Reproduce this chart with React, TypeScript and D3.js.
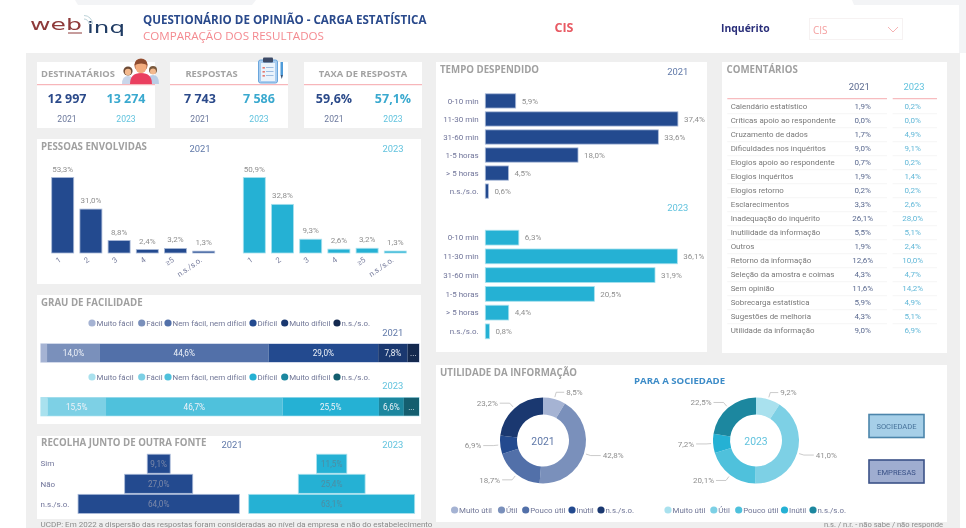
import React from 'react';
import * as d3 from 'd3';

const FONT = '"Open Sans", "Noto Sans", sans-serif';
const LABEL = 'Roboto, "Open Sans", sans-serif';
const NAVY = '#234a8f';
const TEAL = '#25b1d4';
const GREY = '#8f8f8f';
const YEAR_21 = '#5f78a8';
const YEAR_23 = '#62c3de';

// kpis
const kpiTitles = ['DESTINATÁRIOS', 'RESPOSTAS', 'TAXA DE RESPOSTA'];
const kpi2021 = ['12 997', '7 743', '59,6%'];
const kpi2023 = ['13 274', '7 586', '57,1%'];

// pessoas envolvidas
const pessoasCats = ['1', '2', '3', '4', '≥5', 'n.s./s.o.'];
const pessoas2021 = [53.3, 31.0, 8.8, 2.4, 3.2, 1.3];
const pessoas2023 = [50.9, 32.8, 9.3, 2.6, 3.2, 1.3];

// grau de facilidade
const grauCats = ['Muito fácil', 'Fácil', 'Nem fácil, nem difícil', 'Difícil', 'Muito difícil', 'n.s./s.o.'];
const grau2021 = [1.6, 14.0, 44.6, 29.0, 7.8, 3.0];
const grau2023 = [1.7, 15.5, 46.7, 25.5, 6.6, 4.0];
const grauLabels2021 = ['', '14,0%', '44,6%', '29,0%', '7,8%', '...'];
const grauLabels2023 = ['', '15,5%', '46,7%', '25,5%', '6,6%', '...'];
const blues = ['#a5b3d3', '#7a90bb', '#5270a9', '#234a8f', '#1a3870', '#14294f'];
const teals = ['#a9e1ee', '#7dd0e5', '#4fc1dc', '#25b1d4', '#1c879f', '#145e6f'];

// recolha
const recolhaCats = ['Sim', 'Não', 'n.s./s.o.'];
const recolha2021 = [9.1, 27.0, 64.0];
const recolha2023 = [11.5, 25.4, 63.1];

// tempo despendido
const tempoCats = ['0-10 min', '11-30 min', '31-60 min', '1-5 horas', '> 5 horas', 'n.s./s.o.'];
const tempo2021 = [5.9, 37.4, 33.6, 18.0, 4.5, 0.6];
const tempo2023 = [6.3, 36.1, 31.9, 20.5, 4.4, 0.8];

// comentarios
const comentCats = [
  'Calendário estatístico', 'Críticas apoio ao respondente', 'Cruzamento de dados',
  'Dificuldades nos inquéritos', 'Elogios apoio ao respondente', 'Elogios inquéritos',
  'Elogios retorno', 'Esclarecimentos', 'Inadequação do inquérito',
  'Inutilidade da informação', 'Outros', 'Retorno da informação',
  'Seleção da amostra e coimas', 'Sem opinião', 'Sobrecarga estatística',
  'Sugestões de melhoria', 'Utilidade da informação',
];
const coment2021 = [1.9, 0.0, 1.7, 9.0, 0.7, 1.9, 0.2, 3.3, 26.1, 5.5, 1.9, 12.6, 4.3, 11.6, 5.9, 4.3, 9.0];
const coment2023 = [0.2, 0.0, 4.9, 9.1, 0.2, 1.4, 0.2, 2.6, 28.0, 5.1, 2.4, 10.0, 4.7, 14.2, 4.9, 5.1, 6.9];

// utilidade
const utilCats = ['Muito útil', 'Útil', 'Pouco útil', 'Inútil', 'n.s./s.o.'];
const util2021 = [8.5, 42.8, 18.7, 6.9, 23.2];
const util2023 = [9.2, 41.0, 20.1, 7.2, 22.5];
const utilBlues = ['#a5b3d3', '#7a90bb', '#5270a9', '#234a8f', '#1a3870'];
const utilTeals = ['#a9e1ee', '#7dd0e5', '#4fc1dc', '#25b1d4', '#1c879f'];

const pct = (v: number) => v.toFixed(1).replace('.', ',') + '%';

const Panel = ({ x, y, w, h }: any) => <rect x={x} y={y} width={w} height={h} fill='#fff' />;

const Title = ({ x, y, children }: any) => (
  <text x={x} y={y} fontSize={9.7} fontWeight={700} fill='#a0a0a0'>{children}</text>
);

const Year = ({ x, y, c, children, size = 9.4 }: any) => (
  <text x={x} y={y} fontSize={size} fill={c} fontFamily={LABEL} textAnchor='middle'>{children}</text>
);

const Legend = ({ cats, colors, xs, y }: any) => (
  <g fontFamily={LABEL}>
    {cats.map((d: string, i: number) => (
      <g key={d}>
        <circle cx={xs[i]} cy={y} r={3.6} fill={colors[i]} />
        <text x={xs[i] + 4.5} y={y + 3} fontSize={7.9} fill='#6f7596'>{d}</text>
      </g>
    ))}
  </g>
);

const Kpi = ({ x, i, icon }: any) => (
  <g>
    <Panel x={x} y={62} w={118} h={66} />
    <line x1={x} x2={x + 118} y1={84.7} y2={84.7} stroke='#f5a5ab' strokeWidth={1} />
    <text x={x + (i === 0 ? 41 : i === 1 ? 41.5 : 59)} y={76.7} fontSize={9.4} fontWeight={700} fill='#a3a3a3' textAnchor='middle'>{kpiTitles[i]}</text>
    <text x={x + 30} y={102.5} fontSize={12.5} fontWeight={700} fill='#2b4a8a' textAnchor='middle'>{kpi2021[i]}</text>
    <text x={x + 89} y={102.5} fontSize={12.5} fontWeight={700} fill='#3aa9cf' textAnchor='middle'>{kpi2023[i]}</text>
    <Year x={x + 30} y={122} c='#6b789c' size={8.6}>2021</Year>
    <Year x={x + 89} y={122} c={YEAR_23} size={8.6}>2023</Year>
    {icon}
  </g>
);

const PeopleIcon = () => (
  <g>
    <circle cx={128} cy={71} r={4.6} fill='#6d4a35' />
    <path d='M122 84 q0 -8 6 -8 q6 0 6 8 z' fill='#c9d6ea' />
    <circle cx={128} cy={72} r={3.2} fill='#f3b98e' />
    <circle cx={153} cy={70} r={4} fill='#7a5a3e' />
    <path d='M147 84 q0 -9 6 -9 q6 0 6 9 z' fill='#b9cde6' />
    <circle cx={153} cy={71.5} r={3} fill='#f3b98e' />
    <path d='M130 84 q0 -11 11 -11 q11 0 11 11 z' fill='#ea3f5f' />
    <circle cx={141} cy={65} r={6.6} fill='#a3593a' />
    <ellipse cx={141} cy={67} rx={5.6} ry={6.2} fill='#f3ac7e' />
    <path d='M134.6 65 q1 -6 6.4 -6 q5.4 0 6.4 6 q-6 -3 -12.8 0 z' fill='#8d4b2f' />
  </g>
);

const ClipIcon = () => (
  <g>
    <rect x={258.5} y={60} width={19} height={23} rx={2} fill='#a9cdf0' stroke='#6aa6dd' strokeWidth={1} />
    <rect x={261} y={63} width={14} height={18} fill='#eaf3fc' />
    <rect x={263} y={57.5} width={10} height={5} rx={1} fill='#3d4a66' />
    {[67, 71, 75].map((y) => (
      <g key={y}>
        <rect x={262.5} y={y} width={2.4} height={1.6} fill='#e2786f' />
        <rect x={266} y={y} width={7.5} height={1} fill='#9cbce0' />
      </g>
    ))}
    <rect x={280.5} y={62} width={2.5} height={13} fill='#4f9bd9' />
    <path d='M280.5 75 l1.25 4 l1.25 -4 z' fill='#35577e' />
  </g>
);

const PessoasBars = ({ values, color, x0 }: any) => {
  const x = d3.scaleBand().domain(pessoasCats).range([x0, x0 + 169.2]).paddingInner(0.22).paddingOuter(0.11);
  const y = d3.scaleLinear().domain([0, d3.max(values) as number]).range([253, 177.5]);
  return (
    <g fontFamily={LABEL}>
      {pessoasCats.map((c, i) => (
        <g key={c}>
          <rect x={x(c)} y={y(values[i])} width={x.bandwidth()} height={253 - y(values[i])}
            fill={color} stroke={color === NAVY ? '#a9b9d8' : '#a9e1ee'} strokeWidth={0.8} />
          <text x={x(c)! + x.bandwidth() / 2} y={y(values[i]) - 6} fontSize={8} fill={GREY} textAnchor='middle'>{pct(values[i])}</text>
          <text transform={`translate(${x(c)! + x.bandwidth() / 2 - 1},261) rotate(-35)`} fontSize={7.8} fill='#7b80a0' textAnchor='end'>{c}</text>
        </g>
      ))}
    </g>
  );
};

const Stacked = ({ values, labels, colors, y, border }: any) => {
  const x = d3.scaleLinear().domain([0, d3.sum(values)]).range([41, 419]);
  const starts = d3.cumsum([0, ...values]);
  return (
    <g fontFamily={LABEL}>
      <rect x={41} y={y} width={378} height={18} fill='none' stroke={border} strokeWidth={1.2} />
      {values.map((v: number, i: number) => (
        <g key={i}>
          <rect x={x(starts[i])} y={y} width={x(v) - x(0)} height={18} fill={colors[i]} />
          <text x={x(starts[i]) + (x(v) - x(0)) / 2} y={y + 12} fontSize={8.2} fill='#eef2f8' textAnchor='middle'>{labels[i]}</text>
        </g>
      ))}
    </g>
  );
};

const Pyramid = ({ values, color, cx, k, labelColor, border }: any) => {
  const y = d3.scaleBand().domain(recolhaCats).range([453.2, 514.4]).padding(0.05);
  const w = d3.scaleLinear().domain([0, 100]).range([0, k]);
  return (
    <g fontFamily={LABEL}>
      {recolhaCats.map((c, i) => (
        <g key={c}>
          <rect x={cx - w(values[i]) / 2} y={y(c)} width={w(values[i])} height={y.bandwidth()} fill={color} stroke={border} strokeWidth={0.8} />
          <text x={cx} y={y(c)! + y.bandwidth() / 2 + 3} fontSize={8.2} fill={labelColor} textAnchor='middle'>{pct(values[i])}</text>
        </g>
      ))}
    </g>
  );
};

const TempoBars = ({ values, color, border, top, step, k }: any) => {
  const y = d3.scaleBand().domain(tempoCats).range([top, top + step * 6]).padding(0.21);
  const x = d3.scaleLinear().domain([0, 100]).range([485.3, 485.3 + k]);
  return (
    <g fontFamily={LABEL}>
      {tempoCats.map((c, i) => (
        <g key={c}>
          <rect x={x(0)} y={y(c)} width={x(values[i]) - x(0)} height={y.bandwidth()} fill={color} stroke={border} strokeWidth={0.8} />
          <text x={478.7} y={y(c)! + y.bandwidth() / 2 + 2.8} fontSize={8} fill='#71759a' textAnchor='end'>{c}</text>
          <text x={x(values[i]) + 6} y={y(c)! + y.bandwidth() / 2 + 2.8} fontSize={8} fill={GREY}>{pct(values[i])}</text>
        </g>
      ))}
    </g>
  );
};

const Donut = ({ values, colors, cx, cy, year, yearColor }: any) => {
  const pie = d3.pie<number>().sort(null)(values);
  const arc = d3.arc<any>().innerRadius(26).outerRadius(43);
  return (
    <g transform={`translate(${cx},${cy})`} fontFamily={LABEL}>
      {pie.map((p, i) => (
        <path key={i} d={arc(p) as string} fill={colors[i]} />
      ))}
      {pie.map((p, i) => {
        const a = (p.startAngle + p.endAngle) / 2;
        const sx = Math.sin(a);
        const sy = -Math.cos(a);
        const side = sx >= 0 ? 1 : -1;
        const x1 = sx * 45, y1 = sy * 45;
        const x2 = sx * 50, y2 = sy * 50;
        const x3 = x2 + side * (i === 0 ? 8 : 10);
        return (
          <g key={i}>
            <polyline points={`${x1},${y1} ${x2},${y2} ${x3},${y2}`} fill='none' stroke='#b5b5b5' strokeWidth={0.7} />
            <text x={x3 + side * 2} y={y2 + 2.8} fontSize={8} fill={GREY} textAnchor={side > 0 ? 'start' : 'end'}>{pct(values[i])}</text>
          </g>
        );
      })}
      <text y={4} fontSize={10.4} fill={yearColor} textAnchor='middle'>{year}</text>
    </g>
  );
};

const App = () => {
  const rowY = d3.scaleBand().domain(comentCats).range([99.7, 337.7]);
  return (
    <svg width={966} height={528} fontFamily={FONT}
      style={{ position: 'absolute', left: 0, top: 0, filter: 'blur(0.6px)' }}>
      <rect width={966} height={528} fill='#fff' />
      <rect x={26} y={53} width={934} height={475} fill='#efefef' />
      <rect x={959} y={0} width={7} height={53} fill='#f3f4f6' />
      <path d='M75 0 H256 L252 5 H78 Z' fill='#f3f4f6' />
      <path d='M852 0 H966 V5 H854 Z' fill='#f3f4f6' />

      {/* logo */}
      <text x={30} y={30} fontSize={15} fill='#8e3a3a' fontFamily='"DejaVu Sans", sans-serif' textLength={52} lengthAdjust='spacingAndGlyphs'>web</text>
      <line x1={68} x2={82} y1={33} y2={33} stroke='#8e3a3a' strokeWidth={1} />
      <text x={87} y={33} fontSize={15} fill='#1f3b63' fontFamily='"DejaVu Sans", sans-serif' textLength={38} lengthAdjust='spacingAndGlyphs'>inq</text>
      <path d='M84 19 a5 5 0 0 1 5 5 M84 15.5 a8.5 8.5 0 0 1 8.5 8.5' fill='none' stroke='#bcd2d8' strokeWidth={1} />

      {/* header */}
      <text x={143} y={24} fontSize={11.6} fontWeight={700} fill='#2a4a8c'>QUESTIONÁRIO DE OPINIÃO - CARGA ESTATÍSTICA</text>
      <text x={143} y={40} fontSize={11.6} fill='#f48a90'>COMPARAÇÃO DOS RESULTADOS</text>
      <text x={564} y={32} fontSize={12.5} fontWeight={700} fill='#e85a63' textAnchor='middle'>CIS</text>
      <text x={721} y={32} fontSize={10.4} fontWeight={700} fill='#2a2f7a'>Inquérito</text>
      <rect x={809.5} y={18.5} width={93} height={21} fill='#fff' stroke='#f6f2f2' />
      <text x={813} y={34} fontSize={10} fill='#f4a0a0'>CIS</text>
      <path d='M888 27 l5 5 l5 -5' fill='none' stroke='#f4a0a0' strokeWidth={0.8} />

      {/* kpis */}
      <Kpi x={37} i={0} icon={<PeopleIcon />} />
      <Kpi x={170} i={1} icon={<ClipIcon />} />
      <Kpi x={304} i={2} />

      {/* pessoas */}
      <Panel x={37} y={139} w={384} h={145} />
      <Title x={41} y={150}>PESSOAS ENVOLVIDAS</Title>
      <Year x={200} y={152} c={YEAR_21}>2021</Year>
      <Year x={393} y={152} c={YEAR_23}>2023</Year>
      <PessoasBars values={pessoas2021} color={NAVY} x0={48.6} />
      <PessoasBars values={pessoas2023} color={TEAL} x0={240.2} />

      {/* grau */}
      <Panel x={37} y={295} w={384} h={129} />
      <Title x={41} y={306}>GRAU DE FACILIDADE</Title>
      <Legend cats={grauCats} colors={blues} xs={[92, 141.7, 168, 253, 284.7, 337]} y={323} />
      <Year x={392.7} y={336} c={YEAR_21}>2021</Year>
      <Stacked values={grau2021} labels={grauLabels2021} colors={blues} y={344} border='#b4c0dc' />
      <Legend cats={grauCats} colors={teals} xs={[92, 141.7, 168, 253, 284.7, 337]} y={377} />
      <Year x={392.7} y={389} c={YEAR_23}>2023</Year>
      <Stacked values={grau2023} labels={grauLabels2023} colors={teals} y={397.7} border='#a9e1ee' />

      {/* recolha */}
      <Panel x={37} y={436} w={384} h={83} />
      <Title x={41} y={446}>RECOLHA JUNTO DE OUTRA FONTE</Title>
      <Year x={232} y={448} c={YEAR_21}>2021</Year>
      <Year x={392.7} y={448} c={YEAR_23}>2023</Year>
      {recolhaCats.map((c, i) => (
        <text key={c} x={40.5} y={466 + i * 20.5} fontSize={8} fill='#71759a' fontFamily={LABEL}>{c}</text>
      ))}
      <Pyramid values={recolha2021} color={NAVY} cx={158.7} k={252} labelColor='#7c88a8' border='#a9b9d8' />
      <Pyramid values={recolha2023} color={TEAL} cx={331.7} k={263} labelColor='#4d8da3' border='#a9e1ee' />
      <text x={40.5} y={527} fontSize={8} fill='#8a8a8a' fontFamily={LABEL}>UCDP: Em 2022 a dispersão das respostas foram consideradas ao nível da empresa e não do estabelecimento</text>

      {/* tempo */}
      <Panel x={436} y={62} w={271} h={290} />
      <Title x={440} y={73}>TEMPO DESPENDIDO</Title>
      <Year x={677.7} y={75} c={YEAR_21}>2021</Year>
      <TempoBars values={tempo2021} color={NAVY} border='#a9b9d8' top={90} step={18.67} k={515} />
      <Year x={677.7} y={211} c={YEAR_23}>2023</Year>
      <TempoBars values={tempo2023} color={TEAL} border='#a9e1ee' top={226.3} step={19.4} k={532} />

      {/* comentarios */}
      <Panel x={722} y={62} w={225} h={291} />
      <Title x={726.5} y={73}>COMENTÁRIOS</Title>
      <Year x={859.3} y={90} c='#5b6a90'>2021</Year>
      <Year x={914} y={90} c={YEAR_23}>2023</Year>
      <line x1={727.3} x2={887} y1={98.7} y2={98.7} stroke='#f7bcbf' strokeWidth={1.2} />
      <line x1={892.7} x2={937} y1={98.7} y2={98.7} stroke='#f7bcbf' strokeWidth={1.2} />
      {comentCats.map((c, i) => {
        const y = rowY(c)! + rowY.bandwidth() / 2 + 2.7;
        return (
          <g key={c} fontFamily={LABEL}>
            <text x={730.7} y={y} fontSize={7.9} fill='#787878'>{c}</text>
            <text x={862.7} y={y} fontSize={8} fill='#5b6a90' textAnchor='middle'>{pct(coment2021[i])}</text>
            <text x={912.7} y={y} fontSize={8} fill='#62b8d8' textAnchor='middle'>{pct(coment2023[i])}</text>
            {i < comentCats.length - 1 && (
              <g stroke='#f0f0f0' strokeWidth={0.7}>
                <line x1={727.3} x2={887} y1={rowY(c)! + rowY.bandwidth()} y2={rowY(c)! + rowY.bandwidth()} />
                <line x1={892.7} x2={937} y1={rowY(c)! + rowY.bandwidth()} y2={rowY(c)! + rowY.bandwidth()} />
              </g>
            )}
          </g>
        );
      })}

      {/* utilidade */}
      <Panel x={436} y={365} w={511} h={157} />
      <Title x={440} y={376}>UTILIDADE DA INFORMAÇÃO</Title>
      <text x={679.6} y={384} fontSize={9.6} fontWeight={700} fill='#3d8cc8' textAnchor='middle'>PARA A SOCIEDADE</text>
      <Donut values={util2021} colors={utilBlues} cx={543} cy={440.5} year='2021' yearColor={YEAR_21} />
      <Donut values={util2023} colors={utilTeals} cx={756} cy={440.5} year='2023' yearColor={YEAR_23} />
      <Legend cats={utilCats} colors={utilBlues} xs={[454.6, 501.5, 525.7, 572, 601]} y={510} />
      <Legend cats={utilCats} colors={utilTeals} xs={[668, 713.8, 738.7, 784.5, 813]} y={510} />
      <rect x={869} y={414.5} width={55} height={23} fill='#a6cfe8' stroke='#4c85ab' strokeWidth={1.6} />
      <text x={896.5} y={429} fontSize={7.6} fill='#47739a' fontFamily={LABEL} textAnchor='middle'>SOCIEDADE</text>
      <rect x={869} y={460} width={55} height={23} fill='#9fadd0' stroke='#3b5288' strokeWidth={1.6} />
      <text x={896.5} y={474.5} fontSize={7.6} fill='#3b5288' fontFamily={LABEL} textAnchor='middle'>EMPRESAS</text>
      <text x={943} y={527} fontSize={7.6} fill='#8a8a8a' fontFamily={LABEL} textAnchor='end'>n.s. / n.r. - não sabe / não responde</text>
    </svg>
  );
};

export default App;
